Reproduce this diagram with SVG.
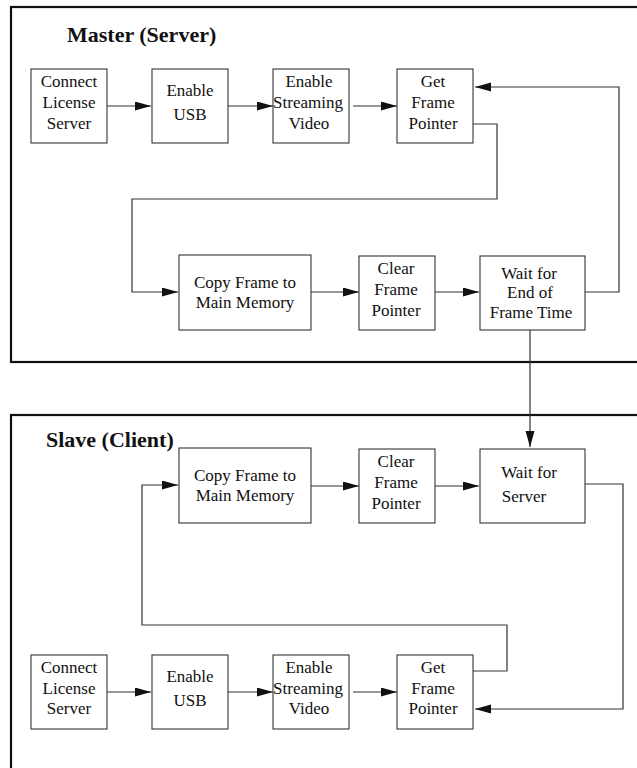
<svg xmlns="http://www.w3.org/2000/svg" width="637" height="768" viewBox="0 0 637 768">
<style>
.frame{fill:none;stroke:#111;stroke-width:2.2}
.box{fill:#fff;stroke:#333;stroke-width:1.1}
.t{font-family:"Liberation Serif","Times New Roman",serif;font-size:17px;fill:#111;text-anchor:middle}
.title{font-family:"Liberation Serif","Times New Roman",serif;font-size:22px;font-weight:bold;fill:#111}
.c{fill:none;stroke:#333;stroke-width:1.2}
</style>
<defs>
<marker id="ah" markerUnits="userSpaceOnUse" markerWidth="17" markerHeight="10" refX="16" refY="4.5" orient="auto">
<path d="M0,0 L16,4.5 L0,9 z" fill="#111"/>
</marker>
</defs>
<g id="master-frame">
<rect class="frame" x="11" y="7" width="640" height="355"/>
<text class="title" x="67" y="42">Master (Server)</text>
</g>
<g id="slave-frame">
<rect class="frame" x="11" y="415" width="640" height="370"/>
<text class="title" x="46" y="447">Slave (Client)</text>
</g>
<g id="connectors">
<line class="c" x1="105" y1="106" x2="151" y2="106" marker-end="url(#ah)"/>
<line class="c" x1="228" y1="106" x2="273" y2="106" marker-end="url(#ah)"/>
<line class="c" x1="353" y1="106" x2="397" y2="106" marker-end="url(#ah)"/>
<polyline class="c" points="585,292 619,292 619,87 475,87" marker-end="url(#ah)"/>
<polyline class="c" points="473,124 497,124 497,199 132,199 132,292 178,292" marker-end="url(#ah)"/>
<line class="c" x1="311" y1="292" x2="359" y2="292" marker-end="url(#ah)"/>
<line class="c" x1="433" y1="292" x2="479" y2="292" marker-end="url(#ah)"/>
<line class="c" x1="530" y1="330" x2="530" y2="447" marker-end="url(#ah)"/>
<line class="c" x1="311" y1="486" x2="359" y2="486" marker-end="url(#ah)"/>
<line class="c" x1="433" y1="486" x2="479" y2="486" marker-end="url(#ah)"/>
<polyline class="c" points="585,484 623,484 623,709 475,709" marker-end="url(#ah)"/>
<polyline class="c" points="473,671 507,671 507,625 142,625 142,485 178,485" marker-end="url(#ah)"/>
<line class="c" x1="105" y1="692" x2="151" y2="692" marker-end="url(#ah)"/>
<line class="c" x1="228" y1="692" x2="273" y2="692" marker-end="url(#ah)"/>
<line class="c" x1="353" y1="692" x2="397" y2="692" marker-end="url(#ah)"/>
</g>
<g id="m-connect">
<rect class="box" x="31" y="69" width="76" height="74"/>
<text class="t" x="69" y="87">Connect</text>
<text class="t" x="69" y="108">License</text>
<text class="t" x="69" y="129">Server</text>
</g>
<g id="m-usb">
<rect class="box" x="152" y="69" width="76" height="74"/>
<text class="t" x="190" y="96">Enable</text>
<text class="t" x="190" y="120">USB</text>
</g>
<g id="m-stream">
<rect class="box" x="273" y="69" width="76" height="74"/>
<text class="t" x="309" y="87">Enable</text>
<text class="t" x="308" y="108">Streaming</text>
<text class="t" x="309" y="129">Video</text>
</g>
<g id="m-get">
<rect class="box" x="397" y="69" width="76" height="74"/>
<text class="t" x="433" y="87">Get</text>
<text class="t" x="433" y="108">Frame</text>
<text class="t" x="433" y="129">Pointer</text>
</g>
<g id="m-copy">
<rect class="box" x="179" y="255" width="132" height="75"/>
<text class="t" x="245" y="288">Copy Frame to</text>
<text class="t" x="245" y="308">Main Memory</text>
</g>
<g id="m-clear">
<rect class="box" x="359" y="256" width="76" height="74"/>
<text class="t" x="396" y="274">Clear</text>
<text class="t" x="396" y="295">Frame</text>
<text class="t" x="396" y="316">Pointer</text>
</g>
<g id="m-wait">
<rect class="box" x="480" y="256" width="105" height="74"/>
<text class="t" x="529" y="279">Wait for</text>
<text class="t" x="530" y="298">End of</text>
<text class="t" x="531" y="318">Frame Time</text>
</g>
<g id="s-copy">
<rect class="box" x="179" y="448" width="132" height="75"/>
<text class="t" x="245" y="481">Copy Frame to</text>
<text class="t" x="245" y="501">Main Memory</text>
</g>
<g id="s-clear">
<rect class="box" x="359" y="449" width="76" height="74"/>
<text class="t" x="396" y="467">Clear</text>
<text class="t" x="396" y="488">Frame</text>
<text class="t" x="396" y="509">Pointer</text>
</g>
<g id="s-wait">
<rect class="box" x="480" y="449" width="105" height="74"/>
<text class="t" x="529" y="478">Wait for</text>
<text class="t" x="524" y="502">Server</text>
</g>
<g id="s-connect">
<rect class="box" x="31" y="655" width="76" height="74"/>
<text class="t" x="69" y="673">Connect</text>
<text class="t" x="69" y="694">License</text>
<text class="t" x="69" y="714">Server</text>
</g>
<g id="s-usb">
<rect class="box" x="152" y="655" width="76" height="74"/>
<text class="t" x="190" y="682">Enable</text>
<text class="t" x="190" y="706">USB</text>
</g>
<g id="s-stream">
<rect class="box" x="273" y="655" width="76" height="74"/>
<text class="t" x="309" y="673">Enable</text>
<text class="t" x="308" y="694">Streaming</text>
<text class="t" x="309" y="714">Video</text>
</g>
<g id="s-get">
<rect class="box" x="397" y="655" width="76" height="74"/>
<text class="t" x="433" y="673">Get</text>
<text class="t" x="433" y="694">Frame</text>
<text class="t" x="433" y="714">Pointer</text>
</g>
</svg>
